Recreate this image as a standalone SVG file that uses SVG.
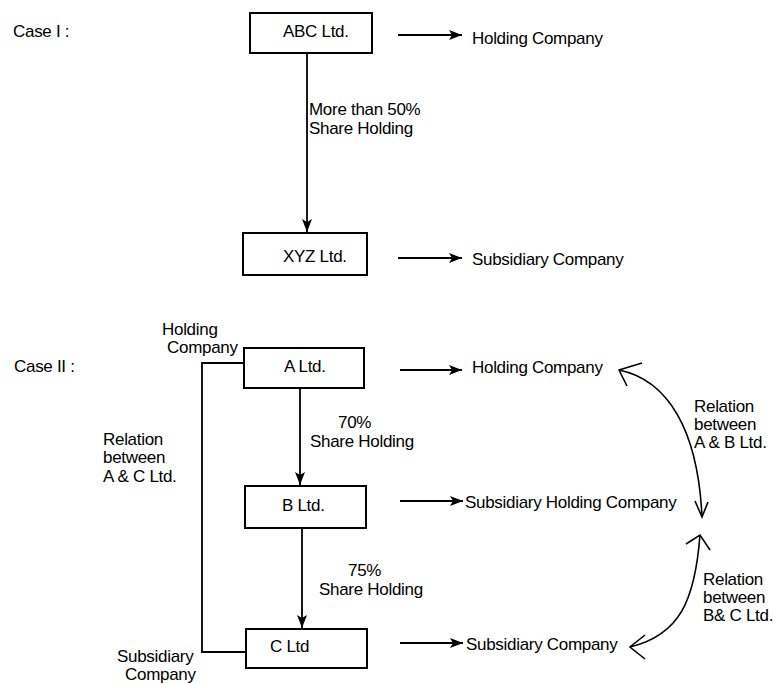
<svg xmlns="http://www.w3.org/2000/svg" width="776" height="684" viewBox="0 0 776 684">
<style>
text{font-family:"Liberation Sans",Arial,sans-serif;font-size:17px;fill:#000;letter-spacing:-0.3px}
.box{fill:#fff;stroke:#000;stroke-width:2}
.ln{fill:none;stroke:#000;stroke-width:1.8}
.cv{fill:none;stroke:#000;stroke-width:1.6}
</style>
<defs>
<marker id="ah" markerWidth="14" markerHeight="10" refX="13" refY="5" orient="auto" markerUnits="userSpaceOnUse">
<path d="M0,0 L13,5 L0,10 L3,5 Z" fill="#000"/>
</marker>
</defs>
<rect width="776" height="684" fill="#fff"/>

<text x="13" y="37">Case I :</text>
<text x="14" y="372">Case II :</text>

<g id="connectors">
<line class="ln" x1="307" y1="53" x2="307" y2="232" marker-end="url(#ah)"/>
<line class="ln" x1="398" y1="35" x2="462" y2="35" marker-end="url(#ah)"/>
<line class="ln" x1="398" y1="258" x2="462" y2="258" marker-end="url(#ah)"/>
<line class="ln" x1="300" y1="388" x2="300" y2="485" marker-end="url(#ah)"/>
<line class="ln" x1="302" y1="528" x2="302" y2="628" marker-end="url(#ah)"/>
<polyline class="ln" points="244,363 202,363 202,652 246,652"/>
<line class="ln" x1="400" y1="370" x2="462" y2="370" marker-end="url(#ah)"/>
<line class="ln" x1="400" y1="501" x2="463" y2="501" marker-end="url(#ah)"/>
<line class="ln" x1="400" y1="643" x2="463" y2="643" marker-end="url(#ah)"/>
<path class="cv" d="M619,370 C668,380 698,430 702,517"/>
<polyline class="cv" points="642,363 619,370 627,386"/>
<polyline class="cv" points="695,501 702,517 708,502"/>
<path class="cv" d="M700,535 C695,600 680,635 630,647"/>
<polyline class="cv" points="686,544 700,535 710,550"/>
<polyline class="cv" points="645,635 630,647 645,659"/>
</g>

<g id="abc"><rect class="box" x="250" y="13" width="122" height="40"/><text x="283" y="37">ABC Ltd.</text></g>
<g id="xyz"><rect class="box" x="243" y="233" width="124" height="42"/><text x="283" y="262">XYZ Ltd.</text></g>
<g id="a"><rect class="box" x="244" y="348" width="120" height="40"/><text x="284" y="372">A Ltd.</text></g>
<g id="b"><rect class="box" x="245" y="486" width="121" height="42"/><text x="282" y="511">B Ltd.</text></g>
<g id="c"><rect class="box" x="246" y="629" width="121" height="39"/><text x="270" y="652">C Ltd</text></g>

<g id="labels">
<text x="472" y="44">Holding Company</text>
<text x="309" y="115">More than 50%</text>
<text x="309" y="134">Share Holding</text>
<text x="472" y="265">Subsidiary Company</text>
<text x="162" y="335">Holding</text>
<text x="167" y="353">Company</text>
<text x="472" y="373">Holding Company</text>
<text x="338" y="428">70%</text>
<text x="310" y="447">Share Holding</text>
<text x="103" y="445">Relation</text>
<text x="103" y="463">between</text>
<text x="103" y="482">A &amp; C Ltd.</text>
<text x="465" y="508">Subsidiary Holding Company</text>
<text x="348" y="576">75%</text>
<text x="319" y="595">Share Holding</text>
<text x="466" y="650">Subsidiary Company</text>
<text x="117" y="662">Subsidiary</text>
<text x="125" y="680">Company</text>
<text x="694" y="412">Relation</text>
<text x="694" y="430">between</text>
<text x="694" y="448">A &amp; B Ltd.</text>
<text x="703" y="585">Relation</text>
<text x="703" y="603">between</text>
<text x="703" y="621">B&amp; C Ltd.</text>
</g>
</svg>
